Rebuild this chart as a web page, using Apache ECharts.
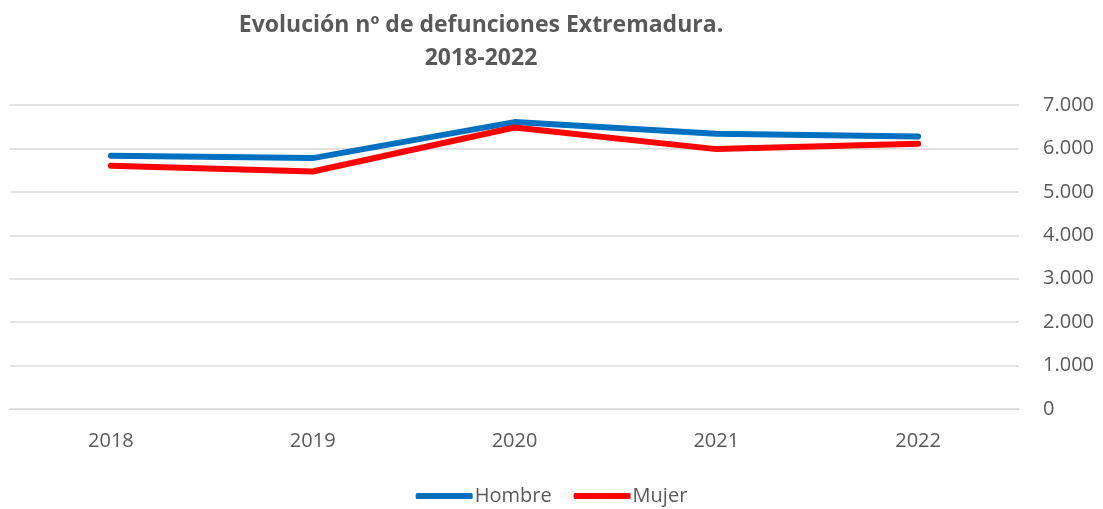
<!DOCTYPE html>
<html><head><meta charset="utf-8">
<script src="https://cdn.jsdelivr.net/npm/echarts@6/dist/echarts.min.js"></script>
<style>html,body{margin:0;padding:0;background:#fff}#c{width:1103px;height:509px}</style>
</head><body><div id="c"></div>
<script>
const categories = ['2018','2019','2020','2021','2022'];
const hombre = [5830, 5777, 6606, 6336, 6274];
const mujer = [5599, 5468, 6482, 5984, 6106];
const yTicks = [0, 1000, 2000, 3000, 4000, 5000, 6000, 7000];

const chart = echarts.init(document.getElementById('c'));
const font = 'Open Sans';
chart.setOption({
  animation: false,
  title: {
    text: 'Evolución nº de defunciones Extremadura.\n2018-2022',
    left: 476, top: 4, textAlign: 'center',
    textStyle: { fontFamily: font, fontWeight: 'bold', fontSize: 23, color: '#595959', lineHeight: 33 }
  },
  legend: {
    bottom: -2, left: 'center',
    itemWidth: 57, itemHeight: 6, itemGap: 22,
    icon: 'roundRect',
    textStyle: { fontFamily: font, fontSize: 20, color: '#595959', padding: [0,0,0,-3] },
    data: ['Hombre','Mujer']
  },
  grid: { left: 10, right: 84, top: 105, bottom: 100, containLabel: false, outerBoundsMode: 'none' },
  xAxis: {
    type: 'category', data: categories, boundaryGap: true,
    axisLine: { show: true, lineStyle: { color: '#d9d9d9', width: 1 } },
    axisTick: { show: false },
    axisLabel: { fontFamily: font, fontSize: 20, color: '#595959', margin: 22 }
  },
  yAxis: {
    type: 'value', position: 'right', min: yTicks[0], max: yTicks[yTicks.length-1], interval: 1000,
    axisLine: { show: false }, axisTick: { show: false },
    splitLine: { lineStyle: { color: '#d9d9d9', width: 1.5 } },
    axisLabel: { fontFamily: font, fontSize: 20, color: '#595959', margin: 24, align: 'left',
      formatter: v => v.toString().replace(/\B(?=(\d{3})+(?!\d))/g, '.') }
  },
  series: [
    { name: 'Hombre', type: 'line', data: hombre, symbol: 'none', color: '#0070C0',
      lineStyle: { width: 6, color: '#0070C0', cap: 'round', join: 'round' } },
    { name: 'Mujer', type: 'line', data: mujer, symbol: 'none', color: '#FF0000',
      lineStyle: { width: 6, color: '#FF0000', cap: 'round', join: 'round' } }
  ]
});
</script></body></html>
